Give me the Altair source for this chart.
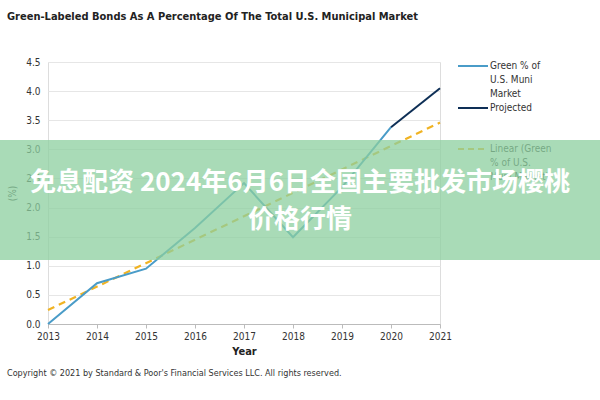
import altair as alt
import pandas as pd

# ---- data ----
years_actual = [2013, 2014, 2015, 2016, 2017, 2018, 2019, 2020]
green_pct = [0.0, 0.70, 0.95, 1.65, 2.42, 1.49, 2.35, 3.38]
years_proj = [2020, 2021]
proj_pct = [3.38, 4.05]
years_trend = [2013, 2021]
trend_pct = [0.24, 3.46]
y_ticks = [0.0, 0.5, 1.0, 1.5, 2.0, 2.5, 3.0, 3.5, 4.0, 4.5]
x_ticks = [2013, 2014, 2015, 2016, 2017, 2018, 2019, 2020, 2021]

title_text = ["Green-Labeled Bonds As A Percentage Of The Total U.S. Municipal Market"]
copyright_text = ["Copyright © 2021 by Standard & Poor's Financial Services LLC. All rights reserved."]
legend_labels = [["Green % of", "U.S. Muni", "Market"], ["Projected"], ["Linear (Green", "% of U.S.", "Muni Market)"]]
watermark_lines = ["免息配资 2024年6月6日全国主要批发市场樱桃", "价格行情"]

FONT = "'DejaVu Sans Condensed', 'Liberation Sans Narrow', 'Liberation Sans', sans-serif"
C_GREEN = "#4a9cc8"
C_PROJ = "#0e2f56"
C_TREND = "#f0b323"

L, T = 48, 62  # plot origin in page pixels
W, H = 392, 262

df_a = pd.DataFrame({"year": years_actual, "pct": green_pct})
df_p = pd.DataFrame({"year": years_proj, "pct": proj_pct})
df_t = pd.DataFrame({"year": years_trend, "pct": trend_pct})

xs = alt.Scale(domain=[2013, 2021], nice=False)
ys = alt.Scale(domain=[0, 4.5], nice=False)

xaxis = alt.Axis(values=x_ticks, format="d", labelFont=FONT,
                 labelFontSize=10, labelColor="#333", titleFont=FONT,
                 titleFontSize=11, titleFontWeight="bold", titleColor="#222",
                 titlePadding=4, domainColor="#bbb", tickColor="#bbb",
                 tickSize=4, grid=False, labelPadding=3, labelFlush=False,
                 labelOverlap=False)
yaxis = alt.Axis(values=y_ticks, format=".1f",
                 labelFont=FONT, labelFontSize=10, labelColor="#333",
                 titleFont=FONT, titleFontSize=10, titleColor="#333",
                 titleFontWeight="normal", titlePadding=8,
                 domain=False, ticks=False, gridColor="#e6e6e6",
                 labelPadding=8, labelOverlap=False, labelFlush=False)

def xe():
    return alt.X("year:Q", scale=xs, title="Year", axis=xaxis)

def ye():
    return alt.Y("pct:Q", scale=ys, title="(%)", axis=yaxis)

trend = alt.Chart(df_t).mark_line(color=C_TREND, strokeWidth=2.2, strokeDash=[7, 5]).encode(x=xe(), y=ye())
actual = alt.Chart(df_a).mark_line(color=C_GREEN, strokeWidth=2).encode(x=xe(), y=ye())
proj = alt.Chart(df_p).mark_line(color=C_PROJ, strokeWidth=2).encode(x=xe(), y=ye())

def txt(df, **kw):
    return alt.Chart(df).mark_text(font=FONT, align="left", baseline="middle", **kw)

title = txt(pd.DataFrame({"t": title_text}), fontSize=11, fontWeight="bold", color="#222").encode(
    x=alt.value(7 - L), y=alt.value(17 - T), text="t:N")
copy = txt(pd.DataFrame({"t": copyright_text}), fontSize=9, color="#333").encode(
    x=alt.value(7 - L), y=alt.value(373 - T), text="t:N")

# legend
leg_rows = []
line_y = [66, 108, 149]
for i, lines in enumerate(legend_labels):
    for j, s in enumerate(lines):
        leg_rows.append({"t": s, "yy": line_y[i] + 14 * j - T})
leg_text = alt.Chart(pd.DataFrame(leg_rows)).mark_text(font=FONT, align="left", baseline="middle",
                                                        fontSize=10, color="#333").encode(
    x=alt.value(490 - L), y=alt.Y("yy:Q", scale=None, axis=None), text="t:N")
leg_df = pd.DataFrame({"k": ["a", "b", "c"], "yy": [v - T for v in line_y]})
leg_a = alt.Chart(leg_df.iloc[[0]]).mark_rule(color=C_GREEN, strokeWidth=2).encode(
    x=alt.value(458 - L), x2=alt.value(488 - L), y=alt.Y("yy:Q", scale=None, axis=None))
leg_b = alt.Chart(leg_df.iloc[[1]]).mark_rule(color=C_PROJ, strokeWidth=2).encode(
    x=alt.value(458 - L), x2=alt.value(488 - L), y=alt.Y("yy:Q", scale=None, axis=None))
leg_c = alt.Chart(leg_df.iloc[[2]]).mark_rule(color=C_TREND, strokeWidth=2.2, strokeDash=[6, 4]).encode(
    x=alt.value(458 - L), x2=alt.value(488 - L), y=alt.Y("yy:Q", scale=None, axis=None))

# watermark band
band = alt.Chart(pd.DataFrame({"a": [0]})).mark_rect(color="#8ccf9f", opacity=0.75).encode(
    x=alt.value(-L), x2=alt.value(600 - L), y=alt.value(140 - T), y2=alt.value(260 - T))
wm = alt.Chart(pd.DataFrame({"t": watermark_lines, "yy": [183 - T, 220 - T]})).mark_text(
    font="Noto Sans CJK SC", fontWeight="bold", fontSize=26, color="white", align="center",
    baseline="middle").encode(x=alt.value(300 - L), y=alt.Y("yy:Q", scale=None, axis=None), text="t:N")

chart = alt.layer(trend, actual, proj, title, copy, leg_text, leg_a, leg_b, leg_c, band, wm).properties(
    width=W, height=H,
    autosize=alt.AutoSizeParams(type="none"),
    padding={"left": L, "top": T, "right": 600 - L - W, "bottom": 400 - T - H},
).configure_view(stroke=None).configure(background="white")

chart.save("out.html", embed_options={"renderer": "svg", "actions": False})
